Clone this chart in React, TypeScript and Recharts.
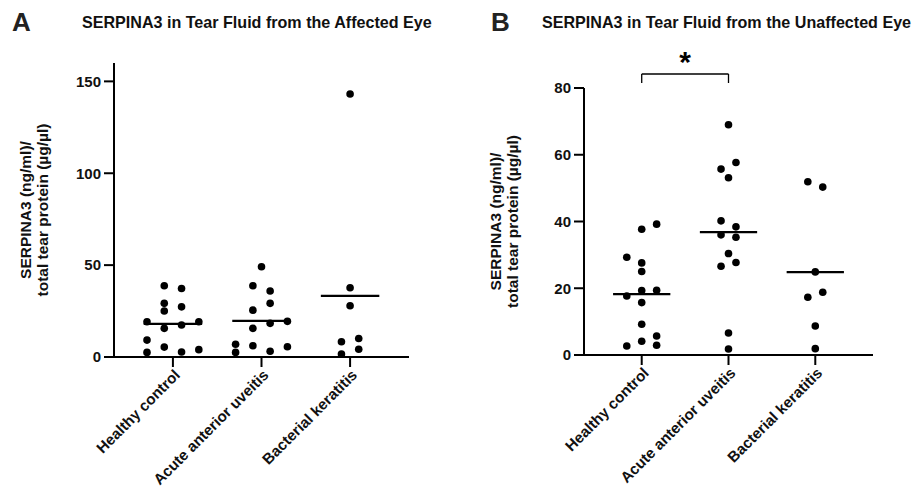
import { ScatterChart, Scatter, XAxis, YAxis, ReferenceLine, ReferenceDot, Label } from "recharts";

const GROUPS = ["Healthy control", "Acute anterior uveitis", "Bacterial keratitis"];

// A: affected eye. slot = column of the dot inside its swarm
const affHealthy = [38.8, 37.3, 29.2, 27.3, 25.0, 19.2, 19.2, 17.4, 15.6, 9.2, 5.4, 2.5, 2.7, 4.0];
const affHealthySlot = [-0.5, 0.5, -0.5, 0.5, -0.5, -1.5, 1.5, 0.5, -0.5, -1.5, -0.5, -1.5, 0.5, 1.5];
const affUveitis = [49.1, 38.8, 35.9, 29.2, 25.5, 19.4, 18.3, 15.6, 6.9, 2.5, 6.1, 3.1, 5.6];
const affUveitisSlot = [0, -0.5, 0.5, 0.5, -0.5, 1.5, 0.5, -0.5, -1.5, -1.5, -0.5, 0.5, 1.5];
const affKeratitis = [143.1, 37.7, 27.9, 8.3, 10.1, 1.6, 4.2];
const affKeratitisSlot = [0, 0, 0, -0.5, 0.5, -0.5, 0.5];

// B: unaffected eye
const unaffHealthy = [37.7, 39.2, 29.3, 27.6, 25.0, 17.7, 19.3, 19.4, 15.7, 9.2, 4.1, 2.7, 5.7, 2.9];
const unaffHealthySlot = [0, 1, -1, 0, 0, -1, 0, 1, 0, 0, 0, -1, 1, 1];
const unaffUveitis = [69.0, 57.7, 55.7, 53.1, 40.2, 38.4, 36.0, 35.3, 30.4, 26.6, 27.7, 6.6, 1.8];
const unaffUveitisSlot = [0, 0.5, -0.5, 0, -0.5, 0.5, -0.5, 0.5, 0, -0.5, 0.5, 0, 0];
const unaffKeratitis = [51.9, 50.3, 24.9, 17.3, 18.8, 8.7, 1.9];
const unaffKeratitisSlot = [-0.5, 0.5, 0, -0.5, 0.5, 0, 0];

const AFF_TICKS = [0, 50, 100, 150];
const UNAFF_TICKS = [0, 20, 40, 60, 80];

const FONT = '"Liberation Sans", Arial, Helvetica, sans-serif';

const mean = (a: number[]) => a.reduce((s, v) => s + v, 0) / a.length;

function buildPoints(groups: number[][], slots: number[][], spread: number) {
  return groups.flatMap((vals, g) => vals.map((v, i) => ({ x: g + slots[g][i] * spread, y: v })));
}

const Dot = (props: any) => <circle cx={props.cx} cy={props.cy} r={3.8} fill="#000" />;

function GroupTick({ x, y, payload }: any) {
  return (
    <text
      transform={`translate(${x + 8},${y + 7}) rotate(-45)`}
      textAnchor="end"
      fontSize={15.2}
      fontWeight="bold"
      fontFamily={FONT}
      fill="#111"
    >
      {GROUPS[payload.value]}
    </text>
  );
}

function YTitle({ viewBox }: any) {
  const ax = viewBox.x + viewBox.width;
  const cy = viewBox.y + viewBox.height / 2;
  return (
    <text
      transform={`translate(${ax},${cy}) rotate(-90)`}
      textAnchor="middle"
      fontSize={15.5}
      fontWeight="bold"
      fontFamily={FONT}
      fill="#111"
    >
      <tspan x={0} y={-83}>SERPINA3 (ng/ml)/</tspan>
      <tspan x={0} y={-66}>total tear protein (µg/µl)</tspan>
    </text>
  );
}

const axisStyle = { stroke: "#000", strokeWidth: 2 };
const tickStyle = { fontSize: 15, fontWeight: "bold", fill: "#111", fontFamily: FONT };

function SwarmPanel({ groups, slots, spread, yMax, yTicks, width, margin, bracket }: any) {
  const points = buildPoints(groups, slots, spread);
  const means = groups.map(mean);
  return (
    <ScatterChart width={width} height={492} margin={margin}>
      <XAxis
        type="number"
        dataKey="x"
        domain={[-0.665, 2.665]}
        ticks={[0, 1, 2]}
        interval={0}
        height={100}
        axisLine={axisStyle}
        tickLine={axisStyle}
        tickSize={10}
        tickMargin={2}
        tick={<GroupTick />}
      />
      <YAxis
        type="number"
        dataKey="y"
        domain={[0, yMax]}
        ticks={yTicks}
        interval={0}
        width={60}
        axisLine={axisStyle}
        tickLine={axisStyle}
        tickSize={10}
        tickMargin={3}
        tick={tickStyle}
      >
        <Label content={<YTitle />} />
      </YAxis>
      {means.map((m: number, g: number) => (
        <ReferenceLine
          key={g}
          segment={[{ x: g - 0.33, y: m }, { x: g + 0.33, y: m }]}
          stroke="#000"
          strokeWidth={2.2}
        />
      ))}
      {bracket && (
        <>
          <ReferenceLine segment={[{ x: 0, y: 84.2 }, { x: 1, y: 84.2 }]} stroke="#000" strokeWidth={1.3} ifOverflow="visible" />
          <ReferenceLine segment={[{ x: 0, y: 84.2 }, { x: 0, y: 81.5 }]} stroke="#000" strokeWidth={1.3} ifOverflow="visible" />
          <ReferenceLine segment={[{ x: 1, y: 84.2 }, { x: 1, y: 81.5 }]} stroke="#000" strokeWidth={1.3} ifOverflow="visible" />
          <ReferenceDot
            x={0.5}
            y={84.2}
            r={0}
            ifOverflow="visible"
            label={{ value: "*", position: "top", offset: 2, fontSize: 30, fontWeight: "bold", fill: "#000", fontFamily: FONT }}
          />
        </>
      )}
      <Scatter data={points} shape={Dot} isAnimationActive={false} />
    </ScatterChart>
  );
}

const letterStyle: any = { position: "absolute", fontFamily: FONT, fontWeight: "bold", fontSize: 26, lineHeight: "26px", color: "#222" };
const titleStyle: any = { position: "absolute", fontFamily: FONT, fontWeight: "bold", fontSize: 16.1, lineHeight: "17px", color: "#111", whiteSpace: "nowrap" };

export default function App() {
  return (
    <div style={{ position: "absolute", left: 0, top: 0, width: 919, height: 492, background: "#fff", overflow: "hidden" }}>
      <div style={{ position: "absolute", left: 0, top: 0 }}>
        <SwarmPanel
          groups={[affHealthy, affUveitis, affKeratitis]}
          slots={[affHealthySlot, affUveitisSlot, affKeratitisSlot]}
          spread={0.195}
          yMax={160}
          yTicks={AFF_TICKS}
          width={460}
          margin={{ top: 63, right: 51, bottom: 35, left: 54 }}
        />
      </div>
      <div style={{ position: "absolute", left: 460, top: 0 }}>
        <SwarmPanel
          groups={[unaffHealthy, unaffUveitis, unaffKeratitis]}
          slots={[unaffHealthySlot, unaffUveitisSlot, unaffKeratitisSlot]}
          spread={0.172}
          yMax={80}
          yTicks={UNAFF_TICKS}
          width={459}
          margin={{ top: 88, right: 46, bottom: 37, left: 64 }}
          bracket
        />
      </div>
      <div style={{ ...letterStyle, left: 12, top: 9 }}>A</div>
      <div style={{ ...titleStyle, left: 82, top: 14 }}>SERPINA3 in Tear Fluid from the Affected Eye</div>
      <div style={{ ...letterStyle, left: 491, top: 9 }}>B</div>
      <div style={{ ...titleStyle, left: 542, top: 14 }}>SERPINA3 in Tear Fluid from the Unaffected Eye</div>
    </div>
  );
}
